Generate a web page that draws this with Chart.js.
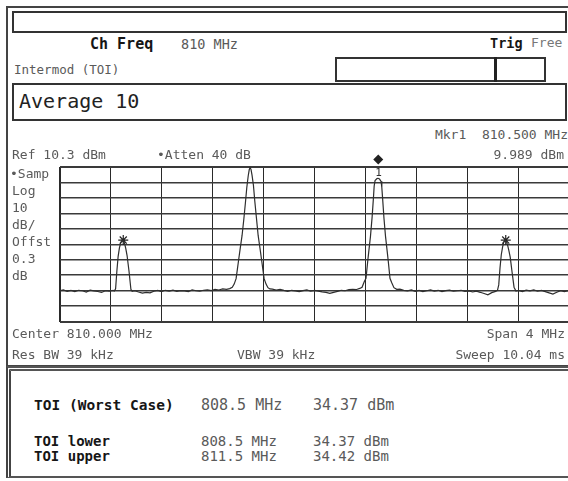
<!DOCTYPE html>
<html>
<head>
<meta charset="utf-8">
<script src="https://cdn.jsdelivr.net/npm/chart.js@4.4.1/dist/chart.umd.min.js"></script>
<style>
    html, body { margin: 0; padding: 0; background: #fff; }
    body { width: 568px; height: 481px; overflow: hidden; position: relative; }
    .t { position: absolute; white-space: pre; font-family: 'DejaVu Sans Mono', monospace; font-size: 13px; line-height: 16px; color: #5a5a5a; }
    .b { font-weight: bold; color: #161616; }
    .box { position: absolute; box-sizing: border-box; }
    #plot { position: absolute; left: 0; top: 150px; width: 580px; height: 185px; }
</style>
</head>
<body>
<div class="box" style="left:6px; top:6px; width:580px; height:362px; border-left:2px solid #444; border-top:2px solid #444; border-bottom:3px solid #444;"></div>
<div class="box" style="left:6px; top:366px; width:580px; height:112px; border-left:5px double #444; border-top:5px double #555; border-bottom:2px solid #555;"></div>
<div class="box" style="left:12px; top:11px; width:555px; height:22px; border:2px solid #333;"></div>
<div class="box" style="left:335px; top:57px; width:211px; height:25px; border:2px solid #333;"></div>
<div class="box" style="left:494px; top:57px; width:3px; height:25px; background:#222;"></div>
<div class="box" style="left:12px; top:83px; width:555px; height:38px; border:2px solid #333;"></div>

<div id="plot"><canvas id="chart"></canvas></div>

<div class="t b" style="left:90px; top:36px; font-size:15px;">Ch Freq</div>
<div class="t" style="left:181px; top:36px; font-size:13.5px;">810 MHz</div>
<div class="t b" style="left:490px; top:35px; font-size:13.5px;">Trig</div>
<div class="t" style="left:531px; top:35px; color:#777;">Free</div>
<div class="t" style="left:14px; top:62px; font-size:12.5px;">Intermod (TOI)</div>
<div class="t" style="left:19px; top:89px; font-size:20px; line-height:24px; color:#222;">Average 10</div>

<div class="t" style="right:0px; top:127px;">Mkr1  810.500 MHz</div>
<div class="t" style="right:4px; top:147px;">9.989 dBm</div>
<div class="t" style="left:12px; top:147px;">Ref 10.3 dBm</div>
<div class="t" style="left:157px; top:147px;">•Atten 40 dB</div>

<div class="t" style="left:10px; top:166px;">•Samp</div>
<div class="t" style="left:12px; top:183px;">Log</div>
<div class="t" style="left:12px; top:200px;">10</div>
<div class="t" style="left:12px; top:217px;">dB/</div>
<div class="t" style="left:12px; top:234px;">Offst</div>
<div class="t" style="left:12px; top:251px;">0.3</div>
<div class="t" style="left:12px; top:268px;">dB</div>
<div class="t" id="mkrLabel" style="left:0px; top:0px; font-size:11px; line-height:12px; color:#333;">1</div>

<div class="t" style="left:12px; top:326px;">Center 810.000 MHz</div>
<div class="t" style="right:3px; top:326px;">Span 4 MHz</div>
<div class="t" style="left:12px; top:347px;">Res BW 39 kHz</div>
<div class="t" style="left:237px; top:347px;">VBW 39 kHz</div>
<div class="t" style="right:3px; top:347px;">Sweep 10.04 ms</div>

<div class="t b" style="left:34px; top:396px; font-size:14.5px; line-height:18px;">TOI (Worst Case)</div>
<div class="t" style="left:201px; top:396px; font-size:15px; line-height:18px;">808.5 MHz</div>
<div class="t" style="left:313px; top:396px; font-size:15px; line-height:18px;">34.37 dBm</div>
<div class="t b" style="left:34px; top:433px; font-size:14px;">TOI lower</div>
<div class="t" style="left:201px; top:433px; font-size:14px;">808.5 MHz</div>
<div class="t" style="left:313px; top:433px; font-size:14px;">34.37 dBm</div>
<div class="t b" style="left:34px; top:448px; font-size:14px;">TOI upper</div>
<div class="t" style="left:201px; top:448px; font-size:14px;">811.5 MHz</div>
<div class="t" style="left:313px; top:448px; font-size:14px;">34.42 dBm</div>

<script>
// trace: frequency (MHz) and level (dBm)
const freqMHz = [
    808.00, 808.03, 808.06, 808.09, 808.12, 808.15, 808.18, 808.21, 808.24, 808.27,
    808.30, 808.33, 808.36, 808.39, 808.42,
    808.43, 808.44, 808.45, 808.46, 808.47, 808.48, 808.49, 808.50, 808.51, 808.52,
    808.53, 808.545, 808.56, 808.57,
    808.59, 808.62, 808.65, 808.68, 808.71, 808.74, 808.77, 808.80, 808.83, 808.86,
    808.89, 808.92, 808.95, 808.98, 809.01, 809.04, 809.07, 809.10, 809.13, 809.16,
    809.19, 809.22, 809.25, 809.28, 809.31,
    809.335, 809.355, 809.37, 809.385, 809.395, 809.403, 809.418, 809.432, 809.445, 809.458,
    809.469, 809.48, 809.488, 809.495, 809.502, 809.51, 809.521, 809.532, 809.545, 809.558,
    809.572, 809.587, 809.595, 809.605, 809.62, 809.635, 809.65,
    809.67, 809.70, 809.73, 809.76, 809.79, 809.82, 809.85, 809.88, 809.91, 809.94,
    809.97, 810.00, 810.03, 810.06, 810.09, 810.12, 810.15, 810.18, 810.21, 810.24,
    810.27, 810.30,
    810.33, 810.355, 810.373, 810.39, 810.404, 810.417, 810.425, 810.439, 810.452, 810.462,
    810.468, 810.475, 810.49, 810.498, 810.51, 810.522, 810.528, 810.535, 810.545, 810.557,
    810.571, 810.579, 810.592, 810.605, 810.623, 810.645,
    810.67, 810.70, 810.73, 810.76, 810.79, 810.82, 810.85, 810.88, 810.91, 810.94,
    810.97, 811.00, 811.03, 811.06, 811.09, 811.12, 811.15, 811.18, 811.21, 811.24,
    811.27, 811.30, 811.33, 811.36, 811.39, 811.42,
    811.435, 811.445, 811.455, 811.465, 811.475, 811.485, 811.495, 811.505, 811.515, 811.525,
    811.535, 811.55, 811.565, 811.58,
    811.60, 811.63, 811.66, 811.69, 811.72, 811.75, 811.78, 811.81, 811.84, 811.87,
    811.90, 811.93, 811.96, 811.99, 812.00
];
const levelDbm = [
    -69.9, -69.3, -70.2, -69.6, -70.4, -69.5, -69.8, -70.6, -69.4, -69.9,
    -70.3, -70.9, -69.8, -70.1, -69.6,
    -70.0, -68.5, -57.0, -47.5, -42.0, -38.8, -37.0, -37.2, -39.0, -42.5,
    -47.0, -57.0, -68.8, -70.2,
    -69.8, -70.6, -71.3, -70.9, -71.2, -70.1, -69.6, -70.3, -69.5, -70.0,
    -69.4, -70.2, -69.7, -69.9, -70.4, -69.3, -69.8, -70.1, -69.5, -69.2,
    -69.7, -68.9, -69.3, -68.6, -68.9,
    -68.4, -67.6, -65.5, -62.0, -56.0, -51.0, -42.0, -34.0, -24.0, -13.0,
    -3.0, 4.5, 8.5, 10.0, 8.8, 5.0, -1.5, -12.0, -23.0, -34.0,
    -42.0, -51.0, -56.0, -62.0, -65.5, -67.8, -68.6,
    -68.8, -69.4, -68.9, -69.6, -70.2, -69.5, -69.9, -70.4, -69.7, -69.3,
    -70.1, -69.6, -70.0, -70.5, -70.9, -71.5, -70.8, -70.2, -69.5, -69.8,
    -69.1, -68.9,
    -69.0, -68.3, -67.5, -64.0, -61.7, -51.0, -45.0, -34.6, -22.0, -10.0,
    -2.0, 1.5, 2.8, 3.0, 2.5, 1.0, -3.0, -11.0, -23.0, -34.6,
    -45.0, -51.0, -61.7, -64.5, -67.8, -68.9,
    -68.7, -69.5, -69.9, -69.3, -70.2, -69.6, -70.4, -69.8, -69.2, -70.0,
    -69.5, -70.3, -69.7, -69.4, -70.1, -69.8, -69.5, -70.2, -69.9, -70.6,
    -70.1, -70.8, -71.6, -72.4, -71.0, -70.2,
    -69.5, -66.0, -55.0, -46.5, -41.5, -38.2, -37.0, -37.8, -40.5, -44.0,
    -48.0, -58.0, -67.5, -70.0,
    -69.6, -70.3, -69.4, -69.9, -69.2, -70.1, -69.6, -70.4, -71.2, -72.0,
    -70.8, -69.7, -70.3, -69.8, -70.0
];

// intermod markers (stars) and the main marker Mkr1
const imFreqs = [808.5, 811.5];
const imLevels = [-37.0, -37.0];
const mkrFreq = 810.5;
const mkrLevel = 9.989;

// graticule: 10 divisions each way, ref level 10.3 dBm, 10 dB/div, span 4 MHz
const gridFreqs = [808.0, 808.4, 808.8, 809.2, 809.6, 810.0, 810.4, 810.8, 811.2, 811.6, 812.0];
const gridLevels = [10.3, 0.3, -9.7, -19.7, -29.7, -39.7, -49.7, -59.7, -69.7, -79.7, -89.7];

const markerPlugin = {
    id: 'mkr1',
    afterDatasetsDraw(chart) {
        const ctx = chart.ctx;
        const x = chart.scales.x.getPixelForValue(mkrFreq);
        const y = chart.scales.y.getPixelForValue(mkrLevel);
        ctx.save();
        ctx.fillStyle = '#222';
        ctx.beginPath();
        ctx.moveTo(x, y - 13);
        ctx.lineTo(x + 5, y - 8);
        ctx.lineTo(x, y - 3);
        ctx.lineTo(x - 5, y - 8);
        ctx.closePath();
        ctx.fill();
        ctx.restore();
        const lab = document.getElementById('mkrLabel');
        const box = chart.canvas.getBoundingClientRect();
        lab.style.left = (box.left + x - 3) + 'px';
        lab.style.top = (box.top + y) + 'px';
    }
};

// outer edges of the graticule are drawn heavier
function vWidth(c) {
    return (c.index === 0 || c.index === 10) ? 2 : 1;
}
function hWidth(c) {
    return (c.index === 0 || c.index === 10) ? 2 : 1.5;
}

const ctx = document.getElementById('chart').getContext('2d');
new Chart(ctx, {
    type: 'line',
    data: {
        datasets: [
            {
                data: freqMHz.map((f, i) => ({ x: f, y: levelDbm[i] })),
                borderColor: '#2e2e2e',
                borderWidth: 1.2,
                pointRadius: 0,
                tension: 0
            },
            {
                data: imFreqs.map((f, i) => ({ x: f, y: imLevels[i] })),
                showLine: false,
                pointStyle: 'star',
                pointRadius: 5,
                borderColor: '#222',
                borderWidth: 1.2
            }
        ]
    },
    options: {
        responsive: true,
        maintainAspectRatio: false,
        animation: false,
        clip: false,
        layout: { padding: { left: 59.5, top: 17, right: 10.5, bottom: 13.5 } },
        plugins: {
            legend: { display: false },
            tooltip: { enabled: false }
        },
        scales: {
            x: {
                type: 'linear',
                min: 808,
                max: 812,
                afterBuildTicks: (scale) => { scale.ticks = gridFreqs.map(v => ({ value: v })); },
                ticks: { display: false },
                grid: { color: '#2a2a2a', lineWidth: vWidth, drawTicks: false },
                border: { display: false }
            },
            y: {
                type: 'linear',
                min: -89.7,
                max: 10.3,
                afterBuildTicks: (scale) => { scale.ticks = gridLevels.map(v => ({ value: v })); },
                ticks: { display: false },
                grid: { color: '#3a3a3a', lineWidth: hWidth, drawTicks: false },
                border: { display: false }
            }
        }
    },
    plugins: [markerPlugin]
});
</script>
</body>
</html>
